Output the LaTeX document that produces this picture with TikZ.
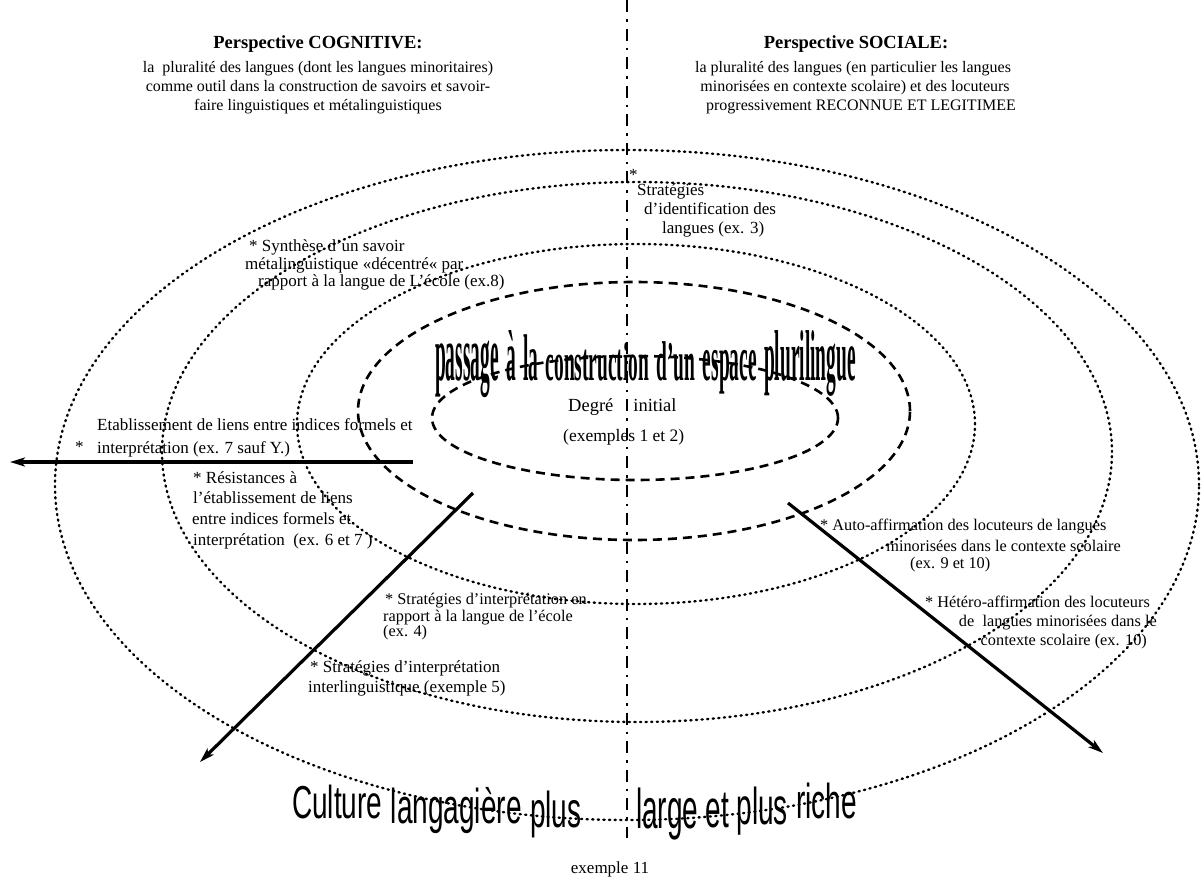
\documentclass[tikz,border=0pt]{standalone}
\usepackage{fontspec}
\setmainfont{Liberation Serif}
\newfontfamily\wasans{Liberation Sans}
\usepackage{graphicx}
\usetikzlibrary{arrows.meta}
\begin{document}
\begin{tikzpicture}[x=1pt,y=-1pt,
  txt/.style={inner sep=0pt, font=\fontsize{17}{20}\selectfont},
  smalltxt/.style={inner sep=0pt, font=\fontsize{16.3}{19}\selectfont},
  subtxt/.style={inner sep=0pt, font=\fontsize{16}{19}\selectfont},
  titletxt/.style={inner sep=0pt, font=\bfseries\fontsize{18.5}{22}\selectfont},
  wa/.style={inner sep=0pt, font=\bfseries\fontsize{20}{24}\selectfont},
  wb/.style={inner sep=0pt, font=\wasans\fontsize{28}{32}\selectfont},
  dotring/.style={draw=black, line width=2.4pt, line cap=round, dash pattern=on 1.2pt off 4.4pt},
  dashring/.style={draw=black, line width=2.6pt, dash pattern=on 9pt off 6pt},
  axisline/.style={draw=black, line width=2.6pt, dash pattern=on 12pt off 7pt on 2.5pt off 7pt},
  bigarrow/.style={draw=black, line width=3.2pt, -{Stealth[length=15pt,width=9pt,inset=4pt]}},
]
\useasboundingbox (0,0) rectangle (1203,892);
\fill[white] (0,0) rectangle (1203,892);

% rings
\draw[dotring] (627,485) ellipse [x radius=572pt, y radius=335pt];
\draw[dotring] (637,452) ellipse [x radius=475pt, y radius=270pt];
\draw[dotring] (636,424) ellipse [x radius=339pt, y radius=180pt];
\draw[dashring] (634,411) ellipse [x radius=276pt, y radius=129pt];
\draw[dashring] (635,418) ellipse [x radius=203pt, y radius=62pt];

% central axis
\coordinate (axtop) at (627,0);
\coordinate (axbot) at (627,838);
\draw[axisline] (axtop) -- (axbot);

% arrows
\coordinate (a1s) at (413,462);
\coordinate (a1e) at (10,462);
\coordinate (a2s) at (473,493);
\coordinate (a2e) at (200,762);
\coordinate (a3s) at (788,503);
\coordinate (a3e) at (1103,753);
\draw[bigarrow] (a1s) -- (a1e);
\draw[bigarrow] (a2s) -- (a2e);
\draw[bigarrow] (a3s) -- (a3e);

% headers
\node[titletxt, anchor=base] (tcog) at (318,48) {Perspective COGNITIVE:};
\node[subtxt, anchor=base] (scog1) at (318,72) {la\ \ pluralité des langues (dont les langues minoritaires)};
\node[subtxt, anchor=base] (scog2) at (318,91) {comme outil dans la construction de savoirs et savoir-};
\node[subtxt, anchor=base] (scog3) at (318,110) {faire linguistiques et métalinguistiques};
\node[titletxt, anchor=base] (tsoc) at (856,48) {Perspective SOCIALE:};
\node[subtxt, anchor=base] (ssoc1) at (853,72) {la pluralité des langues (en particulier les langues};
\node[subtxt, anchor=base] (ssoc2) at (855,91) {minorisées en contexte scolaire) et des locuteurs};
\node[subtxt, anchor=base] (ssoc3) at (861,110) {progressivement RECONNUE ET LEGITIMEE};

% strategies d'identification
\node[txt, anchor=base west] (sidst) at (629,180) {*};
\node[txt, anchor=base west] (sid1) at (637,195) {Stratégies};
\node[txt, anchor=base west] (sid2) at (644,214) {d’identification des};
\node[txt, anchor=base west] (sid3) at (662,233) {langues (ex. 3)};

% synthese
\node[txt, anchor=base west] (syn1) at (249,251) {* Synthèse d’un savoir};
\node[txt, anchor=base west] (syn2) at (245,269) {métalinguistique «décentré« par};
\node[txt, anchor=base west] (syn3) at (258,286) {rapport à la langue de L’école (ex.8)};

% wordart passage
\node[wa, anchor=base west] (p1) at (435,380) {\scalebox{0.97}[3.9]{passage}};
\node[wa, anchor=base west, xshift=7pt] (p2) at (p1.base east) {\scalebox{0.97}[3.6]{à}};
\node[wa, anchor=base west, xshift=7pt] (p3) at (p2.base east) {\scalebox{0.97}[3.3]{la}};
\node[wa, anchor=base west, xshift=7pt] (p4) at (p3.base east) {\scalebox{0.97}[2.7]{construction}};
\node[wa, anchor=base west, xshift=7pt] (p5) at (p4.base east) {\scalebox{0.97}[2.8]{d’un}};
\node[wa, anchor=base west, xshift=7pt] (p6) at (p5.base east) {\scalebox{0.97}[3.2]{espace}};
\node[wa, anchor=base west, xshift=7pt] (p7) at (p6.base east) {\scalebox{0.97}[3.6]{plurilingue}};

% degre initial
\node[inner sep=0pt, font=\fontsize{18.5}{22}\selectfont, anchor=base west] (deg1) at (568,411) {Degré\hspace{20pt}initial};
\node[inner sep=0pt, font=\fontsize{17.5}{21}\selectfont, anchor=base west] (deg2) at (563,441) {(exemples 1 et 2)};

% etablissement
\node[txt, anchor=base west] (eta1) at (97,430) {Etablissement de liens entre indices formels et};
\node[txt, anchor=base west] (etast) at (75,452) {*};
\node[txt, anchor=base west] (eta2) at (97,453) {interprétation (ex. 7 sauf Y.)};

% resistances
\node[txt, anchor=base west] (res1) at (193,483) {* Résistances à};
\node[txt, anchor=base west] (res2) at (193,503) {l’établissement de liens};
\node[txt, anchor=base west] (res3) at (192,524) {entre indices formels et};
\node[txt, anchor=base west] (res4) at (193,545) {interprétation\ \ (ex. 6 et 7 )};

% strategies ecole
\node[smalltxt, anchor=base west] (sec1) at (385,604) {* Stratégies d’interprétation en};
\node[smalltxt, anchor=base west] (sec2) at (383,621) {rapport à la langue de l’école};
\node[smalltxt, anchor=base west] (sec3) at (383,636) {(ex. 4)};

% strategies interlinguistique
\node[txt, anchor=base west] (sil1) at (310,672) {* Stratégies d’interprétation};
\node[txt, anchor=base west] (sil2) at (308,692) {interlinguistique (exemple 5)};

% auto-affirmation
\node[smalltxt, anchor=base west] (aut1) at (820,530) {* Auto-affirmation des locuteurs de langues};
\node[smalltxt, anchor=base east] (aut2) at (1121,551) {minorisées dans le contexte scolaire};
\node[smalltxt, anchor=base west] (aut3) at (910,568) {(ex. 9 et 10)};

% hetero-affirmation
\node[smalltxt, anchor=base west] (het1) at (925,607) {* Hétéro-affirmation des locuteurs};
\node[smalltxt, anchor=base east] (het2) at (1157,626) {de\ \ langues minorisées dans le};
\node[smalltxt, anchor=base east] (het3) at (1147,645) {contexte scolaire (ex. 10)};

% wordart culture
\node[wb, anchor=base west] (c1) at (292,818) {\scalebox{1}[1.65]{Culture}};
\node[wb, anchor=base west, xshift=8pt, yshift=-5pt] (c2) at (c1.base east) {\scalebox{1}[1.75]{langagière}};
\node[wb, anchor=base west, xshift=8pt, yshift=-4pt] (c3) at (c2.base east) {\scalebox{1}[1.8]{plus}};
\node[wb, anchor=base west] (c4) at (636,828) {\scalebox{1}[2.0]{large}};
\node[wb, anchor=base west, xshift=7pt, yshift=1pt] (c5) at (c4.base east) {\scalebox{1}[1.9]{et}};
\node[wb, anchor=base west, xshift=7pt, yshift=3pt] (c6) at (c5.base east) {\scalebox{1}[1.85]{plus}};
\node[wb, anchor=base west, xshift=8pt, yshift=6pt] (c7) at (c6.base east) {\scalebox{1}[1.75]{riche}};

\node[txt, anchor=base] (ex11) at (610,873) {exemple 11};
\end{tikzpicture}
\end{document}
